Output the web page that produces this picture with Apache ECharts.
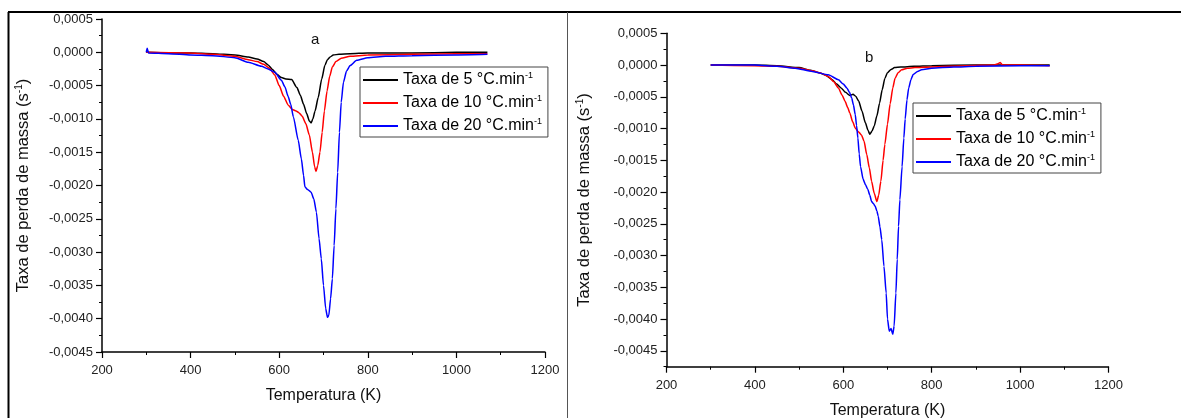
<!DOCTYPE html>
<html>
<head>
<meta charset="utf-8">
<script src="https://cdn.jsdelivr.net/npm/echarts@6/dist/echarts.min.js"></script>
<style>
html,body{margin:0;padding:0;background:#fff;}
#c{width:1181px;height:418px;}
</style>
</head>
<body>
<div id="c"></div>
<script>
// ---- Data ----
var seriesNames = ['Taxa de 5 °C.min', 'Taxa de 10 °C.min', 'Taxa de 20 °C.min'];
var panelLabels = ['a', 'b'];
var xTicks = [200, 400, 600, 800, 1000, 1200];
var yTicks = [-0.0045, -0.0040, -0.0035, -0.0030, -0.0025, -0.0020, -0.0015, -0.0010, -0.0005, 0, 0.0005];

// Panel a, 5 °C/min
var tA5 = [300,350,400,450,500,530,550,565,575,585,595,605,615,628,640,648,655,662,668,672,676,681,688,696,703,709,715,722,735,760,800,900,1000,1070];
var rA5 = [0,-0.00001,-0.00001,-0.00002,-0.00004,-0.00007,-0.0001,-0.00014,-0.00019,-0.00026,-0.00033,-0.00038,-0.0004,-0.00041,-0.00053,-0.00065,-0.00078,-0.00092,-0.00103,-0.00106,-0.001,-0.00088,-0.00068,-0.0004,-0.0002,-0.00011,-0.00007,-0.00004,-0.00003,-0.00002,-0.00001,-0.00001,0,0];
// Panel a, 10 °C/min
var tA10 = [300,400,450,500,530,550,565,578,590,600,610,620,630,638,645,652,660,668,675,680,683,687,692,697,702,708,714,720,728,740,760,800,900,1000,1070];
var rA10 = [0,-0.00001,-0.00003,-0.00006,-0.00011,-0.00014,-0.00018,-0.00024,-0.00034,-0.0005,-0.00066,-0.00079,-0.00086,-0.00088,-0.00091,-0.00096,-0.00107,-0.00124,-0.0015,-0.00172,-0.00179,-0.0017,-0.0015,-0.0012,-0.00088,-0.00058,-0.00036,-0.00022,-0.00014,-0.00009,-0.00006,-0.00004,-0.00003,-0.00002,-0.00002];
// Panel a, 20 °C/min
var tA20 = [300,302,305,350,400,450,500,530,560,575,590,605,613,620,626,632,643,650,655,658,664,672,678,684,690,695,700,705,709,712,716,720,724,728,732,736,740,745,752,760,775,800,840,900,1000,1070];
var rA20 = [0,0.00006,-0.00001,-0.00002,-0.00004,-0.00005,-0.00008,-0.00015,-0.00021,-0.00025,-0.0003,-0.00042,-0.00052,-0.00066,-0.00078,-0.00097,-0.00132,-0.0016,-0.00185,-0.00202,-0.00206,-0.0021,-0.0022,-0.0024,-0.0028,-0.0031,-0.0035,-0.00385,-0.00398,-0.00395,-0.0037,-0.0034,-0.0029,-0.00235,-0.0018,-0.0012,-0.00075,-0.00045,-0.00028,-0.0002,-0.00012,-0.00008,-0.00006,-0.00005,-0.00004,-0.00003];

// Panel b, 5 °C/min
var tB5 = [300,400,450,500,525,545,560,575,585,595,605,615,622,628,635,642,650,656,660,665,670,676,682,688,694,700,708,716,730,760,800,900,1000,1067];
var rB5 = [0,0,-0.00001,-0.00004,-0.00008,-0.00012,-0.00016,-0.00023,-0.0003,-0.00036,-0.00043,-0.00048,-0.00046,-0.00049,-0.00057,-0.00072,-0.00091,-0.00103,-0.00109,-0.00104,-0.00096,-0.0008,-0.0006,-0.00039,-0.00021,-0.00012,-0.00007,-0.00004,-0.00003,-0.00002,-0.00001,0,0,0];
// Panel b, 10 °C/min
var tB10 = [300,400,450,500,530,550,566,578,589,597,604,610,615,621,627,634,641,647,653,659,664,670,676,680,685,690,694,700,706,712,717,724,732,745,762,800,880,940,950,955,960,1000,1067];
var rB10 = [0,-0.00001,-0.00002,-0.00005,-0.00009,-0.00013,-0.00018,-0.00026,-0.00036,-0.00047,-0.00057,-0.00067,-0.00076,-0.00089,-0.00099,-0.00105,-0.0011,-0.0012,-0.00141,-0.00162,-0.00183,-0.00202,-0.00215,-0.00205,-0.00183,-0.0015,-0.00125,-0.00093,-0.00061,-0.00036,-0.00021,-0.00012,-0.000075,-0.00005,-0.00004,-0.00003,-0.00001,0,0.00002,0.00004,0,0,-0.00001];
// Panel b, 20 °C/min
var tB20 = [300,400,450,491,530,566,589,600,608,614,619,623,627,630,633,636,639,645,650,655,660,664,668,672,676,679,683,687,692,697,700,704,708,712,715,719,722,725,728,733,737,740,744,748,753,758,768,777,800,850,900,1000,1067];
var rB20 = [0,0,-0.00002,-0.00005,-0.0001,-0.000154,-0.00023,-0.0003,-0.00036,-0.00043,-0.00052,-0.00063,-0.00078,-0.00095,-0.00115,-0.0014,-0.0016,-0.0018,-0.00188,-0.00195,-0.00205,-0.00215,-0.00218,-0.00222,-0.0023,-0.00238,-0.00255,-0.00275,-0.00317,-0.00359,-0.004,-0.00419,-0.00415,-0.00424,-0.00411,-0.00359,-0.00306,-0.00254,-0.00212,-0.0016,-0.00115,-0.00085,-0.00055,-0.00036,-0.00023,-0.00015,-0.0001,-0.000075,-0.00005,-0.00003,-0.00002,-0.00001,-0.00001];

// ---- helpers ----
function zip(xs, ys){ var o=[]; for(var i=0;i<xs.length;i++) o.push([xs[i], ys[i]]); return o; }
function fmtY(v){
  var m = Math.round(v/0.0005)*0.0005;
  if (Math.abs(m - v) > 1e-9) return '';
  if (Math.abs(m) < 1e-12) return '0,0000';
  return m.toFixed(4).replace('.', ',');
}
function fmtX(v){ return String(Math.round(v)); }
var FONT = '"Liberation Sans", Arial, sans-serif';
var colors = ['#000000', '#ff0000', '#0000ff'];

function xAxisFor(gi){
  return {
    type:'value', gridIndex:gi, min:xTicks[0], max:xTicks[xTicks.length-1], interval:200,
    name:'Temperatura (K)', nameLocation:'middle', nameGap:36,
    nameTextStyle:{fontFamily:FONT, fontSize:16, color:'#111'},
    axisLine:{show:true, onZero:false, lineStyle:{color:'#000', width:1.5}},
    axisTick:{show:true, length:6, lineStyle:{color:'#000', width:1.2}},
    minorTick:{show:true, splitNumber:2, length:3, lineStyle:{color:'#000', width:1}},
    axisLabel:{fontFamily:FONT, fontSize:13, color:'#222', margin:12, formatter:fmtX, showMinLabel:true, showMaxLabel:true},
    splitLine:{show:false}
  };
}
var yName = '{a|Taxa de perda de massa (s}{b|-1}{a|)}';
var yNameStyle = {fontFamily:FONT, fontSize:16.5, color:'#111',
  rich:{a:{fontFamily:FONT, fontSize:16.5, color:'#111', lineHeight:18},
        b:{fontFamily:FONT, fontSize:10, color:'#111', verticalAlign:'top', lineHeight:18}}};

function legendFor(left, top){
  return {
    orient:'vertical', left:left, top:top,
    data:seriesNames.map(function(n){ return {name:n, icon:'rect'}; }),
    itemWidth:35, itemHeight:2, itemGap:6,
    padding:[4,6,3,3],
    borderColor:'#444', borderWidth:1, backgroundColor:'#fff',
    selectedMode:false,
    formatter:function(n){ return '{t|' + n + '}{s|-1}'; },
    textStyle:{fontFamily:FONT, fontSize:16, color:'#000',
      rich:{t:{fontFamily:FONT, fontSize:16, color:'#000', lineHeight:18},
            s:{fontFamily:FONT, fontSize:9, color:'#000', verticalAlign:'top', lineHeight:18}}}
  };
}

var sets = [[tA5,rA5],[tA10,rA10],[tA20,rA20],[tB5,rB5],[tB10,rB10],[tB20,rB20]];
var series = [];
for (var i=0;i<6;i++){
  var panel = i<3 ? 0 : 1;
  series.push({
    name: seriesNames[i%3], type:'line', xAxisIndex:panel, yAxisIndex: panel===0 ? 0 : 1,
    data: zip(sets[i][0], sets[i][1]), symbol:'none', showSymbol:false,
    lineStyle:{color:colors[i%3], width:1.5}, itemStyle:{color:colors[i%3]},
    smooth:0.2, smoothMonotone:'x', animation:false, z:3
  });
}

var option = {
  animation:false,
  backgroundColor:'#ffffff',
  grid:[
    {left:102, top:19, width:443, height:333, containLabel:false, outerBoundsMode:'none'},
    {left:666.5, top:33.3, width:442, height:333.4, containLabel:false, outerBoundsMode:'none'}
  ],
  xAxis:[xAxisFor(0), xAxisFor(1)],
  yAxis:[
    {type:'value', gridIndex:0, position:'left', min:yTicks[0], max:yTicks[yTicks.length-1], interval:0.0005,
     name:yName, nameLocation:'middle', nameGap:70, nameTextStyle:yNameStyle,
     axisLine:{show:true, onZero:false, lineStyle:{color:'#000', width:1.5}},
     axisTick:{show:true, length:6, lineStyle:{color:'#000', width:1.2}},
     minorTick:{show:true, splitNumber:2, length:3, lineStyle:{color:'#000', width:1}},
     axisLabel:{fontFamily:FONT, fontSize:13, color:'#222', margin:9, formatter:fmtY},
     splitLine:{show:false}},
    {type:'value', gridIndex:1, position:'left', min:-0.00475, max:yTicks[yTicks.length-1], interval:0.00025,
     name:yName, nameLocation:'middle', nameGap:73, nameTextStyle:yNameStyle,
     axisLine:{show:true, onZero:false, lineStyle:{color:'#000', width:1.5}},
     axisTick:{show:true, length:3, lineStyle:{color:'#000', width:1}},
     axisLabel:{fontFamily:FONT, fontSize:13, color:'#222', margin:9, formatter:fmtY},
     splitLine:{show:false}},
    {type:'value', gridIndex:1, position:'left', offset:0, min:-0.00475, max:yTicks[yTicks.length-1], interval:0.00025,
     axisLine:{show:false, onZero:false},
     axisTick:{show:true, length:6, customValues:yTicks, lineStyle:{color:'#000', width:1.2}},
     axisLabel:{show:false},
     splitLine:{show:false}}
  ],
  legend:[legendFor(360, 67), legendFor(913, 103)],
  series:series,
  graphic:[
    {type:'line', shape:{x1:8, y1:12, x2:1181, y2:12}, style:{stroke:'#000', lineWidth:2}, silent:true},
    {type:'line', shape:{x1:8.5, y1:12, x2:8.5, y2:418}, style:{stroke:'#000', lineWidth:2}, silent:true},
    {type:'line', shape:{x1:567.5, y1:12, x2:567.5, y2:418}, style:{stroke:'#555', lineWidth:1}, silent:true},
    {type:'text', left:311, top:32, style:{text:panelLabels[0], font:'15px ' + FONT, fill:'#111'}, silent:true},
    {type:'text', left:865, top:50, style:{text:panelLabels[1], font:'15px ' + FONT, fill:'#111'}, silent:true}
  ]
};
var chart = echarts.init(document.getElementById('c'), null, {renderer:'canvas'});
chart.setOption(option);
</script>
</body>
</html>
